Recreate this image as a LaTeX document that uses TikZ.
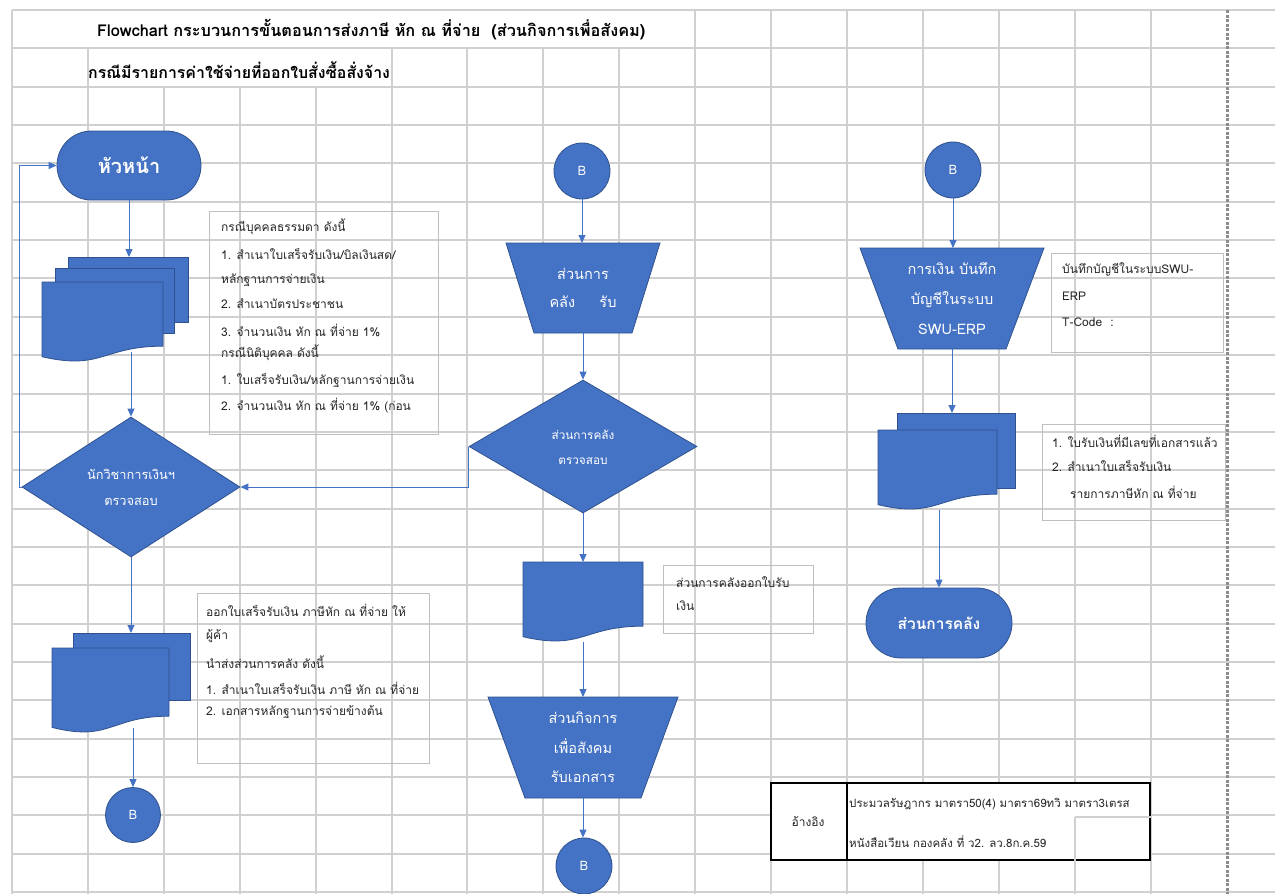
\documentclass[tikz,border=0pt]{standalone}
\usepackage{fontspec}
\setmainfont[Script=Thai]{Loma}
\usetikzlibrary{arrows.meta,shapes.misc,shapes.geometric}
\definecolor{fc}{HTML}{4472C4}
\definecolor{bc}{HTML}{2F528F}
\definecolor{gl}{HTML}{D0D0D0}
\definecolor{tbc}{HTML}{BFBFBF}
\definecolor{txt}{HTML}{262626}
\definecolor{pb}{HTML}{8C8C8C}
\newcommand\docshape[4]{\path[shp] (#1,#2) -- ({#1+#3},#2) -- ({#1+#3},{#2+0.802*#4}) .. controls ({#1+0.5*#3},{#2+0.802*#4}) and ({#1+0.5*#3},{#2+1.1075*#4}) .. (#1,{#2+0.934*#4}) -- cycle;}
\begin{document}
\begin{tikzpicture}[x=1pt,y=-1pt,
  shp/.style={fill=fc,draw=bc,line width=0.8pt},
  grid/.style={draw=gl,line width=2pt},
  conn/.style={draw=fc,line width=1pt,-{Triangle[length=8pt,width=7pt]}},
  tbox/.style={draw=tbc,line width=0.8pt,inner sep=0pt},
  tt/.style={anchor=west,font=\fontsize{12}{14}\selectfont,text=txt,inner sep=0pt},
  wt/.style={text=white,align=center,inner sep=0pt},
  anc/.style={inner sep=0pt,outer sep=0pt}]
\useasboundingbox (0,0) rectangle (1275,894);
\fill[white] (0,0) rectangle (1275,894);
% grid
\foreach \k in {0,...,23} \draw[grid] (12,{10+38.35*\k}) -- (1275,{10+38.35*\k});
\foreach \j in {0,...,15} \draw[grid] ({12+75.9*\j},87) -- ({12+75.9*\j},894);
\foreach \j in {0,1,5,6,7,8,9,10,11,12,13,14,15} \draw[grid] ({12+75.9*\j},48) -- ({12+75.9*\j},87);
\foreach \j in {0,9,10,11,12,13,14,15} \draw[grid] ({12+75.9*\j},10) -- ({12+75.9*\j},48);
\draw[draw=pb,line width=2.4pt,dash pattern=on 3pt off 1.5pt] (1227.5,10) -- (1227.5,894);
% titles
\node[anchor=west,inner sep=0pt,font=\bfseries\fontsize{16.3}{19}\selectfont] (title) at (97,30) {Flowchart กระบวนการขั้นตอนการส่งภาษี หัก ณ ที่จ่าย~ (ส่วนกิจการเพื่อสังคม)};
\node[anchor=west,inner sep=0pt,font=\bfseries\fontsize{15.9}{18}\selectfont] (sub) at (88,70) {กรณีมีรายการค่าใช้จ่ายที่ออกใบสั่งซื้อสั่งจ้าง};

% ---------- left column
\node[shp,rounded rectangle,minimum width=144pt,minimum height=69pt,inner sep=0pt,text=white,font=\bfseries\fontsize{20}{22}\selectfont] (hua) at (129,165.5) {หัวหน้า};
% multidoc 1
\path[shp] (68,257) rectangle (188,322);
\path[shp] (55,268) rectangle (174,333);
\docshape{42}{282}{121}{80}
\node[anc,minimum width=146pt,minimum height=95pt] (md1) at (115,304.5) {};
% diamond 1
\node[shp,diamond,minimum width=218pt,minimum height=140pt,inner sep=0pt] (d1) at (131,487) {};
\node[wt,font=\fontsize{12.8}{26}\selectfont] (d1t) at (131,487) {นักวิชาการเงินฯ\\ตรวจสอบ};
% multidoc 2
\path[shp] (73,633) rectangle (190,700);
\docshape{52}{648}{117}{85}
\node[anc,minimum width=138pt,minimum height=95pt] (md2) at (121,680.5) {};
\node[shp,circle,minimum size=55pt,inner sep=0pt,text=white,font=\fontsize{13}{15}\selectfont] (cB1) at (133,815) {B};

\draw[conn] (hua.south) -- (hua.south |- md1.north);
\draw[conn] (md1.south -| d1.north) -- (d1.north);
\draw[conn] (d1.west) -- ++(-2,0) |- (hua.west);
\draw[conn] (d1.south) -- (d1.south |- md2.north);
\draw[conn] (md2.south -| cB1.north) -- (cB1.north);

% text boxes left
\node[tbox,minimum width=229pt,minimum height=223pt] (tb1) at (323.5,322.5) {};
\node[tt] (tb1a) at (221,227) {กรณีบุคคลธรรมดา ดังนี้};
\node[tt] (tb1b) at (221,254) {1. สำเนาใบเสร็จรับเงิน/บิลเงินสด/};
\node[tt] (tb1c) at (221,280) {หลักฐานการจ่ายเงิน};
\node[tt] (tb1d) at (221,304) {2. สำเนาบัตรประชาชน};
\node[tt] (tb1e) at (221,330) {3. จำนวนเงิน หัก ณ ที่จ่าย 1\%};
\node[tt] (tb1f) at (221,353) {กรณีนิติบุคคล ดังนี้};
\node[tt] (tb1g) at (221,381) {1. ใบเสร็จรับเงิน/หลักฐานการจ่ายเงิน};
\node[tt] (tb1h) at (221,406) {2. จำนวนเงิน หัก ณ ที่จ่าย 1\% (ก่อน};

\node[tbox,minimum width=232pt,minimum height=170pt] (tb2) at (313,678) {};
\node[tt] (tb2a) at (206,610) {ออกใบเสร็จรับเงิน ภาษีหัก ณ ที่จ่าย ให้};
\node[tt] (tb2b) at (206,636) {ผู้ค้า};
\node[tt] (tb2c) at (206,662) {นำส่งส่วนการคลัง ดังนี้};
\node[tt] (tb2d) at (206,688) {1. สำเนาใบเสร็จรับเงิน ภาษี หัก ณ ที่จ่าย};
\node[tt] (tb2e) at (206,712) {2. เอกสารหลักฐานการจ่ายข้างต้น};

% ---------- middle column
\node[shp,circle,minimum size=56pt,inner sep=0pt,text=white,font=\fontsize{13}{15}\selectfont] (cB2) at (582,171) {B};
\path[shp] (506,243) -- (660,243) -- (632,333) -- (534,333) -- cycle;
\node[anc,wt,minimum width=154pt,minimum height=90pt,font=\fontsize{14.5}{28}\selectfont] (t1) at (583,288) {ส่วนการ\\คลัง\quad\ \ รับ};
\node[shp,diamond,minimum width=228pt,minimum height=133pt,inner sep=0pt] (d2) at (583,446.5) {};
\node[wt,font=\fontsize{11.8}{25}\selectfont] (d2t) at (583,447) {ส่วนการคลัง\\ตรวจสอบ};
\docshape{523}{562}{120}{80}
\node[anc,minimum width=120pt,minimum height=80pt] (doc1) at (583,602) {};
\path[shp] (488,697) -- (678,697) -- (641,798) -- (525,798) -- cycle;
\node[anc,wt,minimum width=190pt,minimum height=101pt,font=\fontsize{14.5}{29.5}\selectfont] (t2) at (583,747.5) {ส่วนกิจการ\\เพื่อสังคม\\รับเอกสาร};
\node[shp,circle,minimum size=56pt,inner sep=0pt,text=white,font=\fontsize{13}{15}\selectfont] (cB3) at (584,866) {B};

\draw[conn] (cB2.south) -- (cB2.south |- t1.north);
\draw[conn] (t1.south) -- (d2.north);
\draw[conn] (d2.west) |- (d1.east);
\draw[conn] (d2.south) -- (doc1.north);
\draw[conn] (doc1.south) -- (t2.north);
\draw[conn] (t2.south) -- (t2.south |- cB3.north);

\node[tbox,minimum width=150pt,minimum height=68pt] (tb3) at (738,599) {};
\node[tt] (tb3a) at (676,582) {ส่วนการคลังออกใบรับ};
\node[tt] (tb3b) at (676,606) {เงิน};

% ---------- right column
\node[shp,circle,minimum size=56pt,inner sep=0pt,text=white,font=\fontsize{13}{15}\selectfont] (cB4) at (953,170) {B};
\path[shp] (860,248) -- (1044,248) -- (1006,349) -- (898,349) -- cycle;
\node[anc,wt,minimum width=184pt,minimum height=101pt,font=\fontsize{14.5}{30}\selectfont] (t3) at (952,298.5) {การเงิน บันทึก\\บัญชีในระบบ\\SWU-ERP};
\path[shp] (897,413) rectangle (1015,488);
\docshape{878}{430}{119}{80}
\node[anc,minimum width=137pt,minimum height=97pt] (md3) at (946.5,461.5) {};
\node[shp,rounded rectangle,minimum width=146pt,minimum height=70pt,inner sep=0pt,text=white,font=\bfseries\fontsize{15.5}{18}\selectfont] (term2) at (939,623) {ส่วนการคลัง};

\draw[conn] (cB4.south) -- (cB4.south |- t3.north);
\draw[conn] (t3.south) -- (t3.south |- md3.north);
\draw[conn] (md3.south -| term2.north) -- (term2.north);

\node[tbox,minimum width=172pt,minimum height=99pt] (tb4) at (1137,302.5) {};
\node[tt] (tb4a) at (1062,269) {บันทึกบัญชีในระบบSWU-};
\node[tt] (tb4b) at (1062,296) {ERP};
\node[tt] (tb4c) at (1062,322) {T-Code~ :};

\node[tbox,minimum width=183pt,minimum height=96pt] (tb5) at (1133.5,472) {};
\node[tt] (tb5a) at (1052,441) {1. ใบรับเงินที่มีเลขที่เอกสารแล้ว};
\node[tt] (tb5b) at (1052,466) {2. สำเนาใบเสร็จรับเงิน};
\node[tt] (tb5c) at (1070,492) {รายการภาษีหัก ณ ที่จ่าย};

% ---------- reference table
\node[draw=black,line width=2.2pt,fill=white,minimum width=379pt,minimum height=77pt,inner sep=0pt] (ref) at (960.5,821.5) {};
\draw[grid] (1075,817) -- (ref.east |- 0,817);
\draw[grid] (1075,817) -- (1075,0 |- ref.south);
\draw[black,line width=1.5pt] (847,0 |- ref.north) -- (847,0 |- ref.south);
\node[font=\fontsize{12}{14}\selectfont,text=txt,inner sep=0pt] (refl) at (808,822) {อ้างอิง};
\node[tt,font=\fontsize{11.5}{14}\selectfont] (refa) at (849,804) {ประมวลรัษฎากร มาตรา50(4) มาตรา69ทวิ มาตรา3เตรส};
\node[tt,font=\fontsize{11.5}{14}\selectfont] (refb) at (849,842) {หนังสือเวียน กองคลัง ที่ ว2. ลว.8ก.ค.59};
\end{tikzpicture}
\end{document}
